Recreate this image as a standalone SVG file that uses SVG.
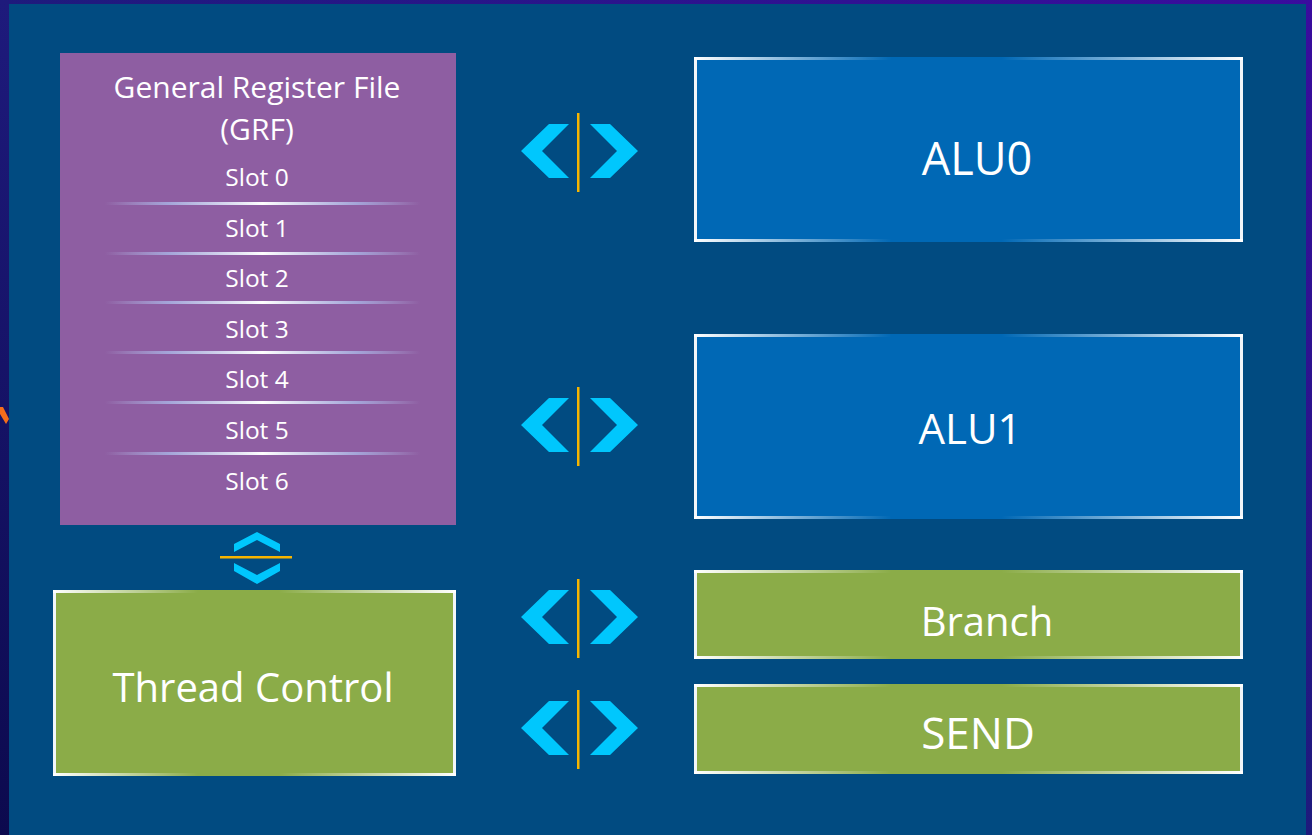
<svg xmlns="http://www.w3.org/2000/svg" width="1312" height="835" viewBox="0 0 1312 835">
  <defs>
    <linearGradient id="outerBg" x1="0" y1="1" x2="1" y2="0">
      <stop offset="0" stop-color="#0c0a4e"/>
      <stop offset="0.5" stop-color="#1e1a7c"/>
      <stop offset="1" stop-color="#3a0c9e"/>
    </linearGradient>
    <linearGradient id="edgeGrad" x1="0" y1="0" x2="1" y2="0">
      <stop offset="0" stop-color="#ffffff" stop-opacity="1"/>
      <stop offset="0.36" stop-color="#ffffff" stop-opacity="0"/>
      <stop offset="0.56" stop-color="#ffffff" stop-opacity="0"/>
      <stop offset="1" stop-color="#ffffff" stop-opacity="1"/>
    </linearGradient>
    <linearGradient id="slotDiv" x1="0" y1="0" x2="1" y2="0">
      <stop offset="0" stop-color="#b8c4ec" stop-opacity="0"/>
      <stop offset="0.2" stop-color="#a9b6e6" stop-opacity="0.8"/>
      <stop offset="0.5" stop-color="#ffffff" stop-opacity="1"/>
      <stop offset="0.8" stop-color="#a9b6e6" stop-opacity="0.8"/>
      <stop offset="1" stop-color="#b8c4ec" stop-opacity="0"/>
    </linearGradient>
    <g id="hArrow">
      <polygon class="chev" points="549,-27 569,-27 542,0 569,27 549,27 521,0"/>
      <polygon class="chev" points="610,-27 590,-27 617,0 590,27 610,27 638,0"/>
      <rect class="ybar" x="577" y="-38" width="2.5" height="79"/>
    </g>
  </defs>
  <style>
    .chev { fill: #00c7fd; }
    .ybar { fill: #f7b500; }
    .blue { fill: #0068b5; }
    .green { fill: #8bac48; }
    .side { fill: #f2f6fa; }
    .edge { fill: url(#edgeGrad); }
    .lbl { font-family: "Open Sans", "Liberation Sans", sans-serif; fill: #ffffff; text-anchor: middle; }
    .big { font-size: 40px; }
    .slot { font-size: 24.5px; }
    .title { font-size: 30px; }
  </style>

  <rect x="0" y="0" width="1312" height="835" fill="url(#outerBg)"/>
  <rect x="9" y="4" width="1297" height="831" fill="#014b81"/>
  <polygon points="0,407 3,407 9,419 6,424 0,414" fill="#f36d1c"/>

  <g id="grf">
    <rect x="60" y="53" width="396" height="472" fill="#8e5ea2"/>
    <text class="lbl title" x="257" y="98">General Register File</text>
    <text class="lbl title" x="257" y="140">(GRF)</text>
    <text class="lbl slot" x="257" y="186">Slot 0</text>
    <rect x="105" y="202" width="315" height="3" fill="url(#slotDiv)"/>
    <text class="lbl slot" x="257" y="237">Slot 1</text>
    <rect x="105" y="252" width="315" height="3" fill="url(#slotDiv)"/>
    <text class="lbl slot" x="257" y="287">Slot 2</text>
    <rect x="105" y="301" width="315" height="3" fill="url(#slotDiv)"/>
    <text class="lbl slot" x="257" y="338">Slot 3</text>
    <rect x="105" y="351" width="315" height="3" fill="url(#slotDiv)"/>
    <text class="lbl slot" x="257" y="388">Slot 4</text>
    <rect x="105" y="401" width="315" height="3" fill="url(#slotDiv)"/>
    <text class="lbl slot" x="257" y="439">Slot 5</text>
    <rect x="105" y="452" width="315" height="3" fill="url(#slotDiv)"/>
    <text class="lbl slot" x="257" y="490">Slot 6</text>
  </g>

  <g id="thread-control">
    <rect class="green" x="53" y="590" width="403" height="186"/>
    <rect class="side" x="53" y="590" width="3" height="186"/>
    <rect class="side" x="453" y="590" width="3" height="186"/>
    <rect class="edge" x="53" y="590" width="403" height="3"/>
    <rect class="edge" x="53" y="773" width="403" height="3"/>
    <text class="lbl big" x="253" y="702">Thread Control</text>
  </g>

  <g id="alu0">
    <rect class="blue" x="694" y="57" width="549" height="185"/>
    <rect class="side" x="694" y="57" width="3" height="185"/>
    <rect class="side" x="1240" y="57" width="3" height="185"/>
    <rect class="edge" x="694" y="57" width="549" height="3"/>
    <rect class="edge" x="694" y="239" width="549" height="3"/>
    <text class="lbl" style="font-size:45px" x="977" y="175">ALU0</text>
  </g>

  <g id="alu1">
    <rect class="blue" x="694" y="334" width="549" height="185"/>
    <rect class="side" x="694" y="334" width="3" height="185"/>
    <rect class="side" x="1240" y="334" width="3" height="185"/>
    <rect class="edge" x="694" y="334" width="549" height="3"/>
    <rect class="edge" x="694" y="516" width="549" height="3"/>
    <text class="lbl" style="font-size:42px" x="970" y="444">ALU1</text>
  </g>

  <g id="branch">
    <rect class="green" x="694" y="570" width="549" height="89"/>
    <rect class="side" x="694" y="570" width="3" height="89"/>
    <rect class="side" x="1240" y="570" width="3" height="89"/>
    <rect class="edge" x="694" y="570" width="549" height="3"/>
    <rect class="edge" x="694" y="656" width="549" height="3"/>
    <text class="lbl big" x="987" y="636">Branch</text>
  </g>

  <g id="send">
    <rect class="green" x="694" y="684" width="549" height="90"/>
    <rect class="side" x="694" y="684" width="3" height="90"/>
    <rect class="side" x="1240" y="684" width="3" height="90"/>
    <rect class="edge" x="694" y="684" width="549" height="3"/>
    <rect class="edge" x="694" y="771" width="549" height="3"/>
    <text class="lbl" style="font-size:44px" x="978" y="749">SEND</text>
  </g>

  <g id="connectors">
    <use href="#hArrow" transform="translate(0,151)"/>
    <use href="#hArrow" transform="translate(0,425)"/>
    <use href="#hArrow" transform="translate(0,617)"/>
    <use href="#hArrow" transform="translate(0,728)"/>
    <g id="v-arrow">
      <polygon class="chev" points="234,544 257,532 280,544 280,552 257,540 234,552"/>
      <rect class="ybar" x="220" y="556" width="72" height="2.5"/>
      <polygon class="chev" points="234,563 257,575 280,563 280,571 257,584 234,571"/>
    </g>
  </g>
</svg>
